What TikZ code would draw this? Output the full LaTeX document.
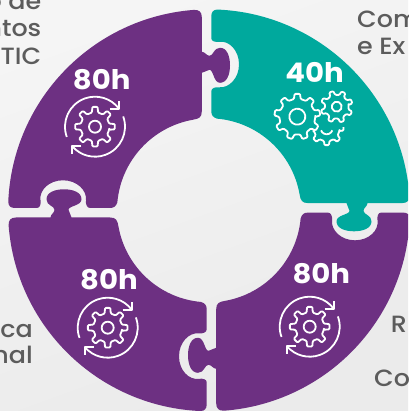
\documentclass[tikz,border=0pt]{standalone}
\usepackage{fontspec}
\setmainfont{Poppins}[UprightFont=* Medium, BoldFont=* Bold, FakeStretch=1.08]
\usetikzlibrary{calc}

\definecolor{piecepurple}{HTML}{6D3082}
\definecolor{pieceteal}{HTML}{00A99D}
\definecolor{labelgrey}{HTML}{5C5C5C}

% One puzzle piece, around the centre of the ring
\newcommand{\piecepath}{
  (-7.2,193) .. controls (-7.2,198.5) and (-10,200.5) .. (-15,200.4)
  arc[start angle=94.3, end angle=177.6, radius=201]
  .. controls (-200.6,4) and (-198,2.3) .. (-194,2.3)
  -- (-172,2.3) .. controls (-169,2.3) and (-168,6) .. (-168.5,10)
  .. controls (-170,20) and (-160,30) .. (-146,30)
  .. controls (-132,30) and (-122,20) .. (-123,10)
  .. controls (-123.5,6) and (-122,2.3) .. (-119,2.3)
  -- (-99,2.3) .. controls (-95,2.3) and (-93,4) .. (-91.65,8)
  arc[start angle=175, end angle=100, radius=92]
  .. controls (-10,91.5) and (-7.2,93) .. (-7.2,99)
  -- (-7.2,137.5) .. controls (-4,137.5) and (-2.5,140.5) .. (0.5,140.5)
  .. controls (4.5,140.5) and (4.5,127.5) .. (11,127.5)
  .. controls (18,127.5) and (21,136) .. (21,145)
  .. controls (21,154) and (18,162.5) .. (11,162.5)
  .. controls (4.5,162.5) and (4.5,154.5) .. (0.5,154.5)
  .. controls (-2.5,154.5) and (-4,158.5) .. (-7.2,158.5) -- cycle
}

% #1 teeth, #2 outer radius, #3 root radius
\newcommand{\gearshape}[3]{
  \draw[iconline, rounded corners=1pt] ({-0.27*360/#1}:#3)
    \foreach \k [evaluate=\k as \a using \k*360/#1] in {1,...,#1} {
      -- ({\a-360/#1-0.17*360/#1}:#2) -- ({\a-360/#1+0.17*360/#1}:#2)
      -- ({\a-360/#1+0.27*360/#1}:#3) -- ({\a-0.27*360/#1}:#3)
    } -- cycle;
}

\tikzset{
  iconline/.style={white, line width=1.8pt, line join=round},
  hourlabel/.style={white, font=\bfseries\fontsize{27}{27}\selectfont, inner sep=0pt},
  outerlabel/.style={labelgrey, font=\fontsize{23.5}{27}\selectfont, inner sep=0pt},
  cycleicon/.pic={
    \gearshape{8}{20}{14.5}
    \draw[iconline] (0,0) circle (6);
    \draw[iconline] (200:30) arc[start angle=200, end angle=37, radius=30];
    \draw[iconline] (20:30) arc[start angle=20, end angle=-139, radius=30];
    % arrow heads
    \draw[iconline] ($(37:30)+(-9,0)$) -- (37:30) -- ($(37:30)+(0,8)$);
    \draw[iconline] ($(221:30)+(9,0)$) -- (221:30) -- ($(221:30)+(0,-8)$);
  }
}

\begin{document}
\begin{tikzpicture}[x=1pt,y=1pt]
  \useasboundingbox (0,0) rectangle (408,411);
  \clip (0,0) rectangle (408,411);
  \fill[top color=black!4, bottom color=black!8, shading angle=20] (0,0) rectangle (408,411);

  % Pieces
  \begin{scope}[shift={(209,200.7)}]
    \foreach \r/\c in {0/piecepurple, -90/pieceteal, -180/piecepurple, -270/piecepurple} {
      \fill[\c, rotate=\r] \piecepath;
    }
  \end{scope}

  % Hours
  \node[hourlabel] (hoursone) at (101.7,331) {80h};
  \node[hourlabel] (hourstwo) at (314.5,338.3) {40h};
  \node[hourlabel] (hoursthree) at (321.3,137.7) {80h};
  \node[hourlabel] (hoursfour) at (109,131) {80h};

  % Icons
  \pic at (95,284.3) {cycleicon};
  \pic at (309.7,84.3) {cycleicon};
  \pic at (107.7,83.3) {cycleicon};

  % Gears of the teal piece
  \begin{scope}[shift={(326.7,282.7)}]
    \clip (-14,-20) rectangle (20,1);
    \gearshape{8}{17}{13}
    \draw[iconline] (200:6) arc[start angle=200, end angle=340, radius=6];
  \end{scope}
  \begin{scope}[shift={(297.3,294.3)}, rotate=10]
    \gearshape{9}{23}{18}
    \draw[iconline] (0,0) circle (8);
  \end{scope}
  \begin{scope}[shift={(336.7,304.3)}, rotate=20]
    \gearshape{8}{16}{12}
    \draw[iconline] (0,0) circle (5);
  \end{scope}

  % Labels, cut by the edge of the picture
  \node[outerlabel, anchor=base east] (topone) at (41.5,401) {o de};
  \node[outerlabel, anchor=base east] (toptwo) at (41.5,374) {ntos};
  \node[outerlabel, anchor=base east] (topthree) at (41.5,346) {TIC};
  \node[outerlabel, anchor=base west] (rightone) at (357,383) {Com};
  \node[outerlabel, anchor=base west] (righttwo) at (357,356) {e Ex};
  \node[outerlabel, anchor=base east] (leftone) at (33,73.3) {ica};
  \node[outerlabel, anchor=base east] (lefttwo) at (33,47) {nal};
  \node[outerlabel, anchor=base west] (lowone) at (390.7,78) {R};
  \node[outerlabel, anchor=base west] (lowtwo) at (374,24.3) {Co};
\end{tikzpicture}
\end{document}
